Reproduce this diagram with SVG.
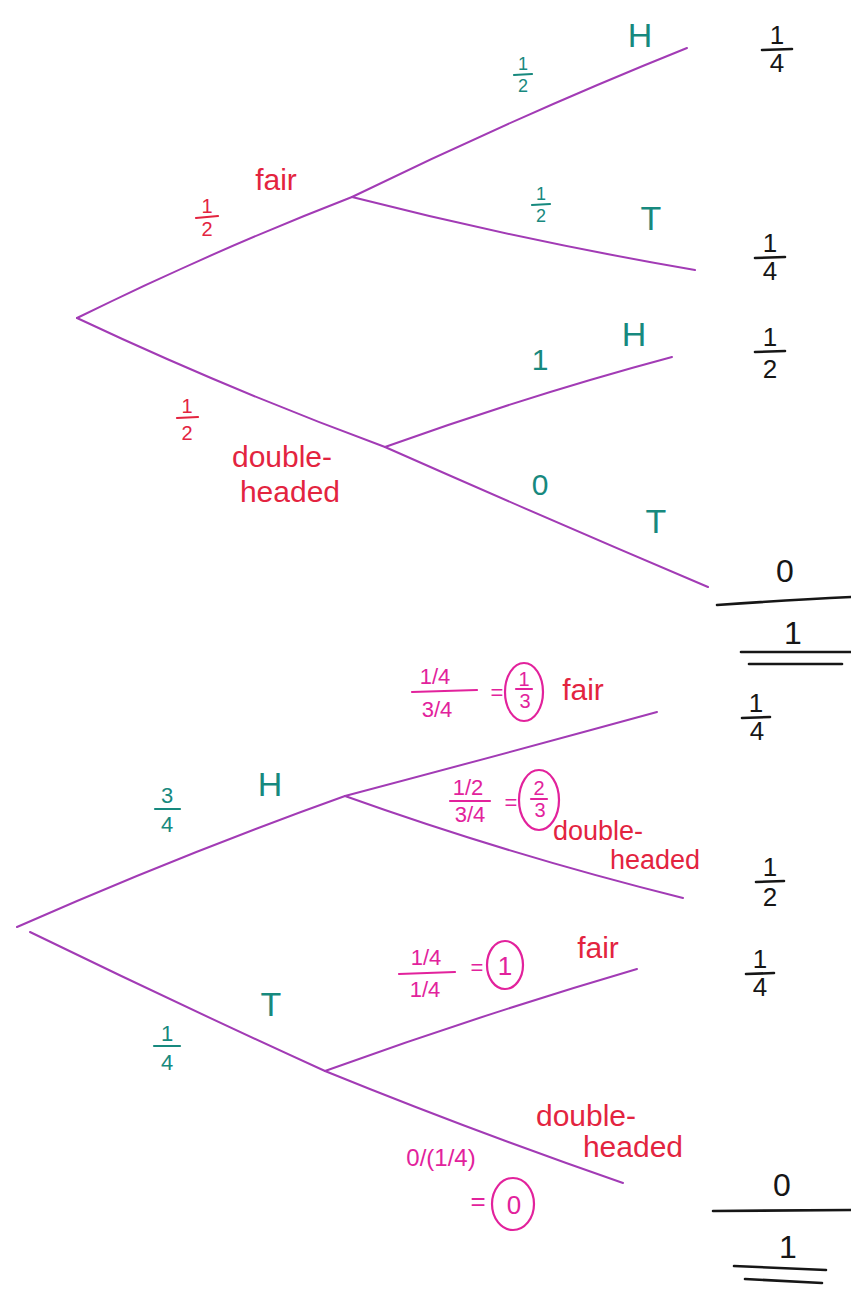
<svg xmlns="http://www.w3.org/2000/svg" width="851" height="1291" viewBox="0 0 851 1291">
<style>
.br{fill:none;stroke:#a23bb5;stroke-width:2;stroke-linecap:round}
.t{font-family:"Liberation Sans",Arial,sans-serif;text-anchor:middle}
.red{fill:#e3243f}
.teal{fill:#17897e}
.pink{fill:#e2229c}
.blk{fill:#161616}
.fr{stroke-width:2.2;stroke-linecap:round}
.rl{stroke:#e3243f}.tl{stroke:#17897e}.pl{stroke:#e2229c}.bl{stroke:#161616;stroke-width:2.6}
.circ{fill:none;stroke:#e2229c;stroke-width:2.2}
</style>
<rect width="851" height="1291" fill="#ffffff"/>
<g id="connectors">
<path class="br" d="M77,318 Q215,250 352,197"/>
<path class="br" d="M352,197 Q520,115 687,48"/>
<path class="br" d="M352,197 Q520,240 695,270"/>
<path class="br" d="M77,318 Q230,390 385,447"/>
<path class="br" d="M385,447 Q530,395 672,357"/>
<path class="br" d="M385,447 Q550,520 708,587"/>
<path class="br" d="M17,927 Q180,855 345,796"/>
<path class="br" d="M345,796 Q500,755 657,712"/>
<path class="br" d="M345,796 Q510,855 683,898"/>
<path class="br" d="M30,932 Q180,1005 325,1071"/>
<path class="br" d="M325,1071 Q480,1015 637,969"/>
<path class="br" d="M325,1071 Q470,1130 623,1183"/>
</g>
<g id="top-tree">
<g id="fair-prob"><text class="t red" x="207" y="213" font-size="20">1</text><line class="fr rl" x1="196" y1="218" x2="218" y2="216"/><text class="t red" x="207" y="236" font-size="20">2</text></g>
<text id="fair-label" class="t red" x="276" y="190" font-size="30">fair</text>
<g id="fair-H-prob"><text class="t teal" x="523" y="70" font-size="18">1</text><line class="fr tl" x1="514" y1="75" x2="532" y2="74"/><text class="t teal" x="523" y="92" font-size="18">2</text></g>
<text id="top-H1" class="t teal" x="640" y="47" font-size="34">H</text>
<g id="fair-T-prob"><text class="t teal" x="541" y="200" font-size="18">1</text><line class="fr tl" x1="532" y1="205" x2="550" y2="204"/><text class="t teal" x="541" y="222" font-size="18">2</text></g>
<text id="top-T1" class="t teal" x="651" y="230" font-size="34">T</text>
<g id="dh-prob"><text class="t red" x="187" y="413" font-size="20">1</text><line class="fr rl" x1="177" y1="418" x2="198" y2="417"/><text class="t red" x="187" y="440" font-size="20">2</text></g>
<text id="dh-label1" class="t red" x="282" y="467" font-size="30">double-</text>
<text id="dh-label2" class="t red" x="290" y="502" font-size="30">headed</text>
<text id="dh-H-prob" class="t teal" x="540" y="370" font-size="30">1</text>
<text id="top-H2" class="t teal" x="634" y="346" font-size="34">H</text>
<text id="dh-T-prob" class="t teal" x="540" y="495" font-size="30">0</text>
<text id="top-T2" class="t teal" x="656" y="533" font-size="34">T</text>
</g>
<g id="top-results">
<g id="r1"><text class="t blk" x="777" y="44" font-size="26">1</text><line class="fr bl" x1="762" y1="50" x2="792" y2="49"/><text class="t blk" x="777" y="72" font-size="26">4</text></g>
<g id="r2"><text class="t blk" x="770" y="252" font-size="26">1</text><line class="fr bl" x1="755" y1="258" x2="785" y2="257"/><text class="t blk" x="770" y="280" font-size="26">4</text></g>
<g id="r3"><text class="t blk" x="770" y="346" font-size="26">1</text><line class="fr bl" x1="755" y1="352" x2="785" y2="351"/><text class="t blk" x="770" y="378" font-size="26">2</text></g>
<text id="r4" class="t blk" x="785" y="582" font-size="32">0</text>
<path class="fr bl" fill="none" d="M717,605 Q790,600 851,597"/>
<text id="r-sum" class="t blk" x="793" y="644" font-size="32">1</text>
<line class="fr bl" x1="741" y1="652" x2="851" y2="652"/>
<line class="fr bl" x1="749" y1="664" x2="842" y2="664"/>
</g>
<g id="bottom-tree">
<g id="bH-prob"><text class="t teal" x="167" y="803" font-size="22">3</text><line class="fr tl" x1="155" y1="809" x2="180" y2="809"/><text class="t teal" x="167" y="832" font-size="22">4</text></g>
<text id="b-H" class="t teal" x="270" y="796" font-size="34">H</text>
<g id="post-fair-H"><text class="t pink" x="435" y="684" font-size="22">1/4</text><line class="fr pl" x1="412" y1="692" x2="477" y2="690"/><text class="t pink" x="437" y="717" font-size="22">3/4</text>
<text class="t pink" x="497" y="700" font-size="22">=</text><ellipse class="circ" cx="524" cy="692" rx="19" ry="29"/><text class="t pink" x="524" y="686" font-size="20">1</text><line class="fr pl" x1="516" y1="689" x2="532" y2="689"/><text class="t pink" x="525" y="708" font-size="20">3</text></g>
<text id="b-fair1" class="t red" x="583" y="700" font-size="30">fair</text>
<g id="post-dh-H"><text class="t pink" x="468" y="795" font-size="22">1/2</text><line class="fr pl" x1="450" y1="801" x2="490" y2="801"/><text class="t pink" x="470" y="822" font-size="22">3/4</text>
<text class="t pink" x="511" y="810" font-size="22">=</text><ellipse class="circ" cx="539" cy="800" rx="20" ry="30"/><text class="t pink" x="539" y="795" font-size="20">2</text><line class="fr pl" x1="531" y1="799" x2="547" y2="799"/><text class="t pink" x="540" y="817" font-size="20">3</text></g>
<text id="b-dh1-a" class="t red" x="598" y="840" font-size="27">double-</text>
<text id="b-dh1-b" class="t red" x="655" y="869" font-size="27">headed</text>
<g id="bT-prob"><text class="t teal" x="167" y="1041" font-size="22">1</text><line class="fr tl" x1="154" y1="1046" x2="180" y2="1046"/><text class="t teal" x="167" y="1070" font-size="22">4</text></g>
<text id="b-T" class="t teal" x="271" y="1016" font-size="34">T</text>
<g id="post-fair-T"><text class="t pink" x="426" y="965" font-size="22">1/4</text><line class="fr pl" x1="399" y1="974" x2="455" y2="972"/><text class="t pink" x="425" y="997" font-size="22">1/4</text>
<text class="t pink" x="477" y="975" font-size="22">=</text><ellipse class="circ" cx="505" cy="965" rx="18" ry="24"/><text class="t pink" x="505" y="975" font-size="26">1</text></g>
<text id="b-fair2" class="t red" x="598" y="958" font-size="30">fair</text>
<text id="b-dh2-a" class="t red" x="586" y="1126" font-size="30">double-</text>
<text id="b-dh2-b" class="t red" x="633" y="1157" font-size="30">headed</text>
<g id="post-dh-T"><text class="t pink" x="441" y="1166" font-size="24">0/(1/4)</text>
<text class="t pink" x="478" y="1210" font-size="26">=</text><ellipse class="circ" cx="513" cy="1204" rx="21" ry="26"/><text class="t pink" x="514" y="1214" font-size="26">0</text></g>
</g>
<g id="bottom-results">
<g id="b-r1"><text class="t blk" x="756" y="712" font-size="26">1</text><line class="fr bl" x1="742" y1="718" x2="770" y2="717"/><text class="t blk" x="757" y="740" font-size="26">4</text></g>
<g id="b-r2"><text class="t blk" x="770" y="876" font-size="26">1</text><line class="fr bl" x1="756" y1="882" x2="784" y2="881"/><text class="t blk" x="770" y="906" font-size="26">2</text></g>
<g id="b-r3"><text class="t blk" x="760" y="968" font-size="26">1</text><line class="fr bl" x1="746" y1="974" x2="774" y2="973"/><text class="t blk" x="760" y="996" font-size="26">4</text></g>
<text id="b-r4" class="t blk" x="782" y="1196" font-size="32">0</text>
<line class="fr bl" x1="713" y1="1211" x2="851" y2="1210"/>
<text id="b-r-sum" class="t blk" x="788" y="1258" font-size="32">1</text>
<line class="fr bl" x1="734" y1="1266" x2="826" y2="1270"/>
<line class="fr bl" x1="745" y1="1279" x2="822" y2="1283"/>
</g>
</svg>
